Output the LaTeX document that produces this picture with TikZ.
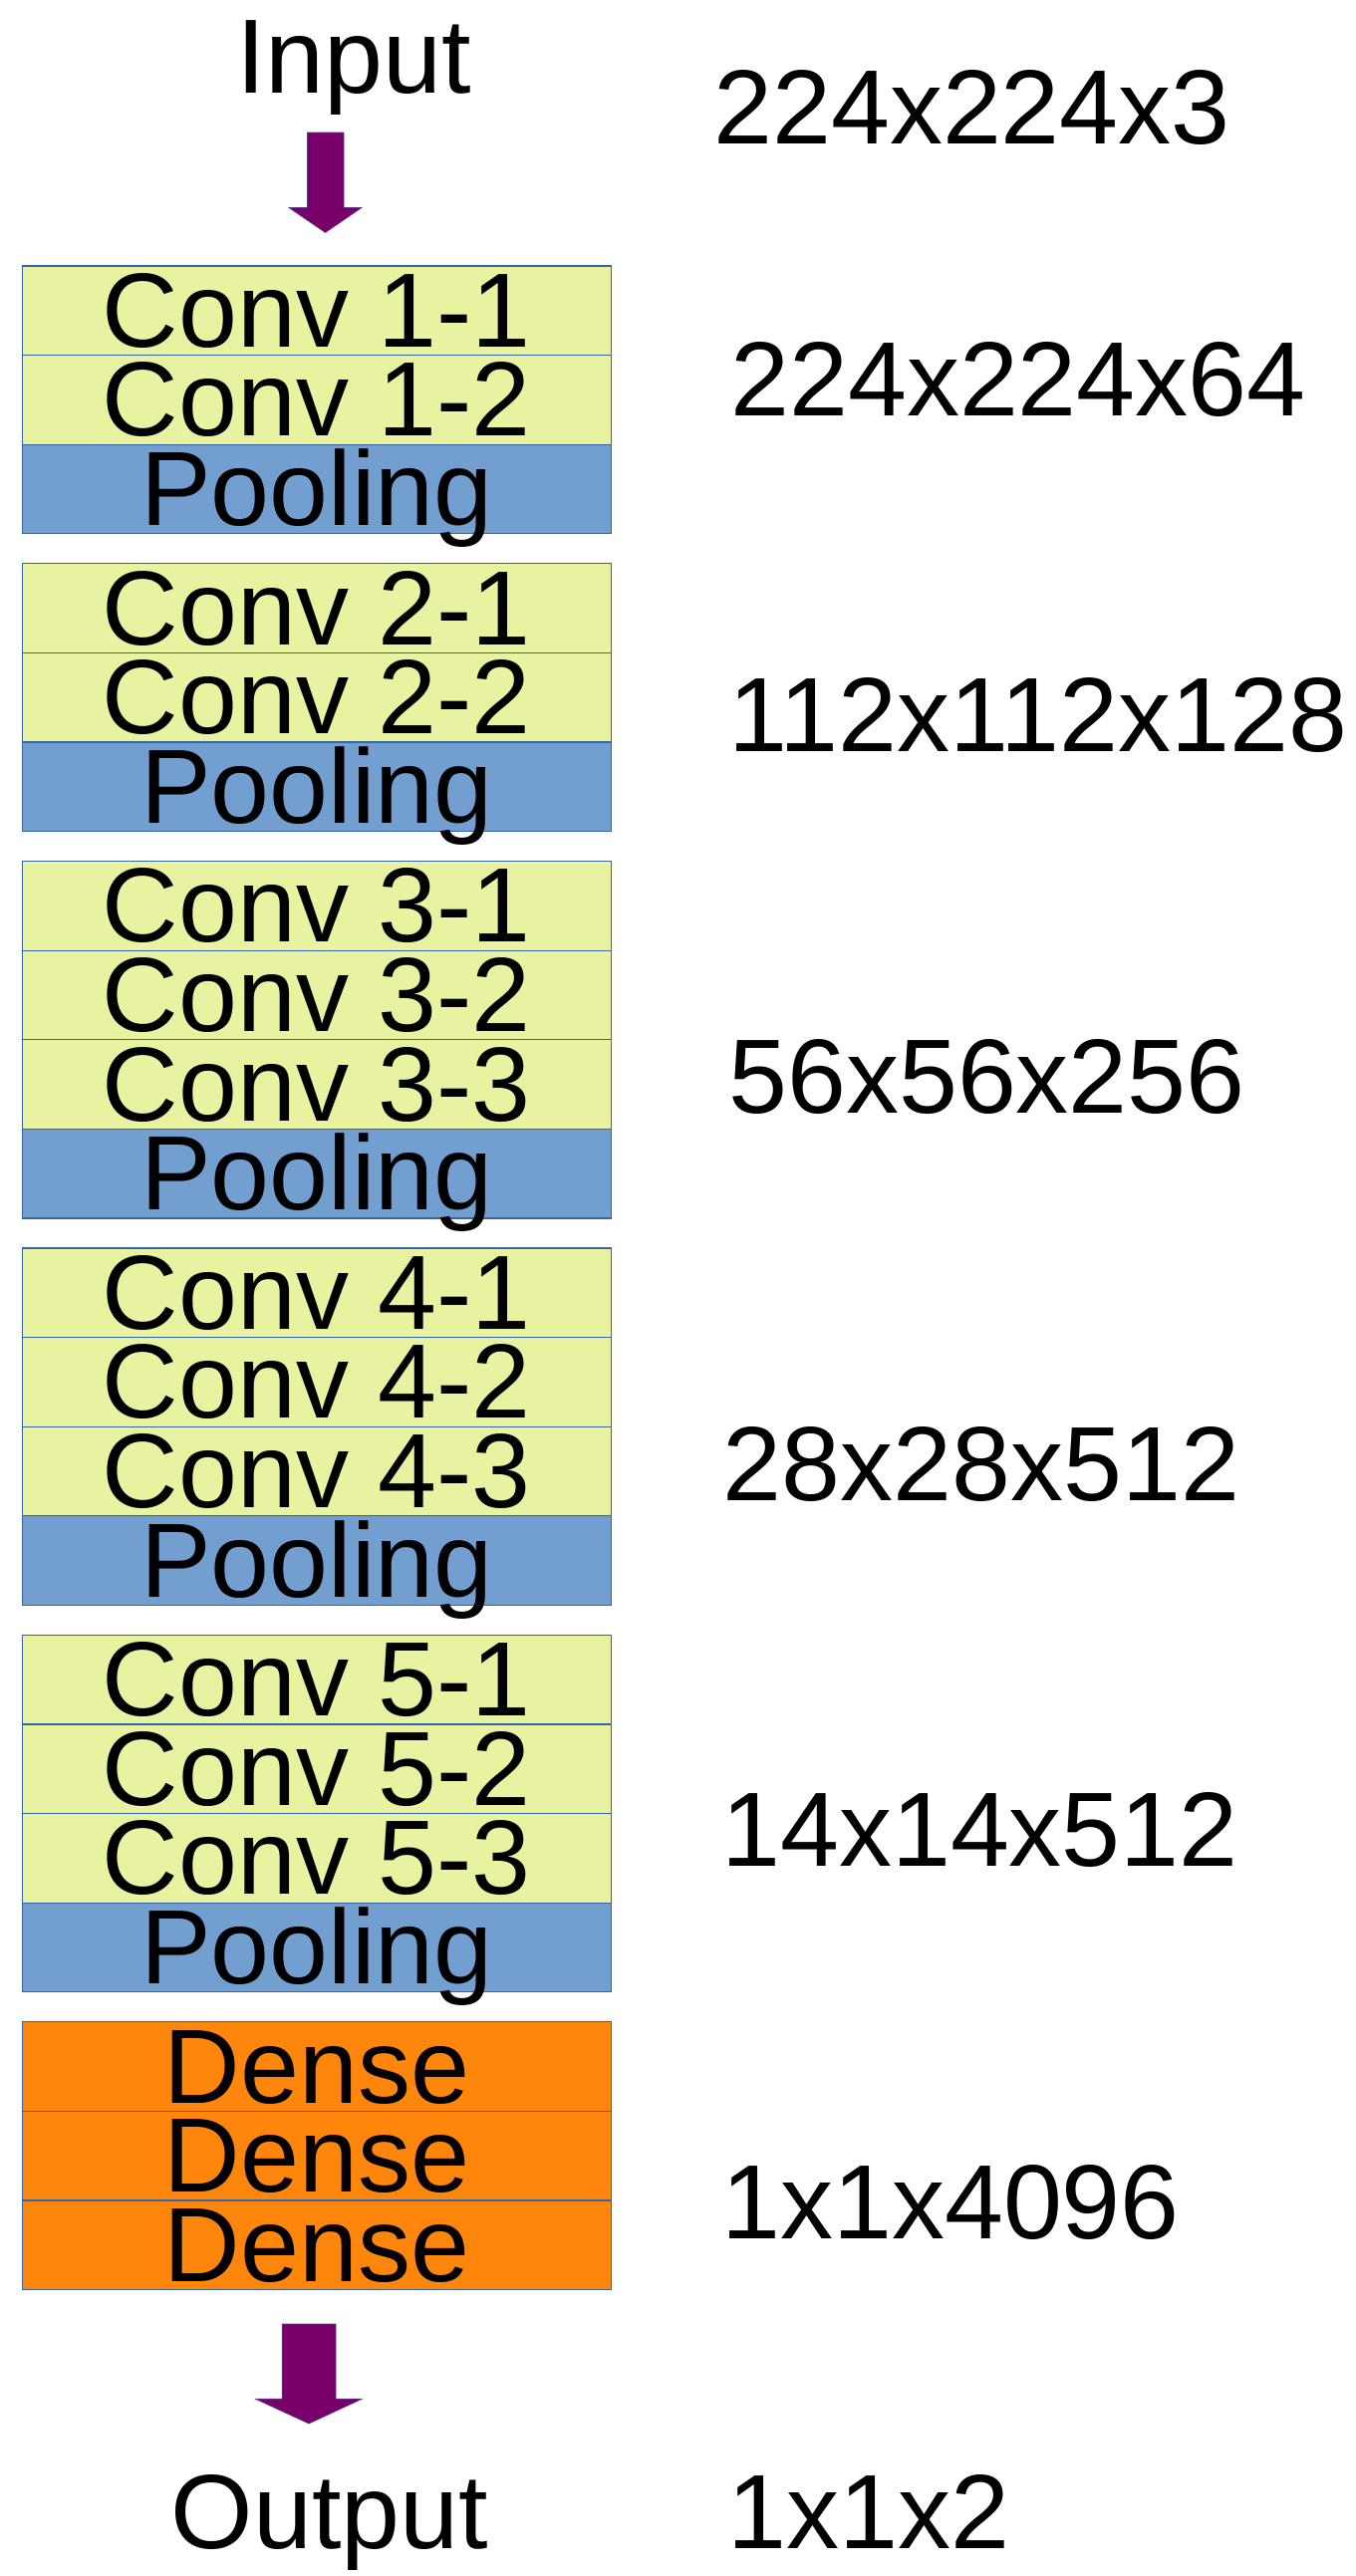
\documentclass[tikz,border=0pt]{standalone}
\usepackage{fontspec}
\setmainfont{Liberation Sans}
\usepackage{tikz}
\usetikzlibrary{positioning}

\definecolor{convcol}{HTML}{E8F2A1}
\definecolor{poolcol}{HTML}{729FCF}
\definecolor{densecol}{HTML}{FF860D}
\definecolor{linecol}{HTML}{3465A4}
\definecolor{arrowcol}{HTML}{780068}

\tikzset{
  layer/.style={draw=linecol, line width=1.2pt, minimum width=591pt, minimum height=89.6pt,
    inner sep=0pt, outer sep=0pt, text height=73pt, text depth=0pt,
    font=\fontsize{106}{110}\selectfont},
  conv/.style={layer, fill=convcol},
  pool/.style={layer, fill=poolcol},
  dense/.style={layer, fill=densecol},
  title/.style={anchor=base, inner sep=0pt, font=\fontsize{106}{110}\selectfont},
  dims/.style={anchor=base west, inner sep=0pt, font=\fontsize{106}{110}\selectfont},
  blockarrow/.style={fill=arrowcol, draw=linecol!60!arrowcol, line width=0.6pt}
}

\begin{document}
\begin{tikzpicture}[x=1pt,y=-1pt]
            \useasboundingbox (0,0) rectangle (1360,2586);
            \fill[white] (0,0) rectangle (1360,2586);

            \node[title] (input) at (355,93.5) {Input};
            \filldraw[blockarrow] (308.5,133) -- (345,133) -- (345,208.5) -- (363,208.5)
              -- (326.5,233.5) -- (290,208.5) -- (308.5,208.5) -- cycle;

            \node[conv] (c11) at (318,311.8) {Conv 1-1};
            \node[conv, below=0pt of c11] (c12) {Conv 1-2};
            \node[pool, below=0pt of c12] (p1) {Pooling};

            \node[conv, below=30pt of p1] (c21) {Conv 2-1};
            \node[conv, below=0pt of c21] (c22) {Conv 2-2};
            \node[pool, below=0pt of c22] (p2) {Pooling};

            \node[conv, below=30pt of p2] (c31) {Conv 3-1};
            \node[conv, below=0pt of c31] (c32) {Conv 3-2};
            \node[conv, below=0pt of c32] (c33) {Conv 3-3};
            \node[pool, below=0pt of c33] (p3) {Pooling};

            \node[conv, below=30pt of p3] (c41) {Conv 4-1};
            \node[conv, below=0pt of c41] (c42) {Conv 4-2};
            \node[conv, below=0pt of c42] (c43) {Conv 4-3};
            \node[pool, below=0pt of c43] (p4) {Pooling};

            \node[conv, below=30pt of p4] (c51) {Conv 5-1};
            \node[conv, below=0pt of c51] (c52) {Conv 5-2};
            \node[conv, below=0pt of c52] (c53) {Conv 5-3};
            \node[pool, below=0pt of c53] (p5) {Pooling};

            \node[dense, below=30pt of p5] (fc1) {Dense};
            \node[dense, below=0pt of fc1] (fc2) {Dense};
            \node[dense, below=0pt of fc2] (fc3) {Dense};

            \filldraw[blockarrow] (283.2,2333) -- (337,2333) -- (337,2408.2) -- (363.4,2408.2)
              -- (310,2433) -- (256.3,2408.2) -- (283.2,2408.2) -- cycle;
            \node[title] (output) at (331,2558) {Output};

            \node[dims] (dimin) at (716,144.4) {224x224x3};
            \node[dims] (dim1) at (733,417.2) {224x224x64};
            \node[dims] (dim2) at (731,754.6) {112x112x128};
            \node[dims] (dim3) at (731,1117) {56x56x256};
            \node[dims] (dim4) at (725.6,1506) {28x28x512};
            \node[dims] (dim5) at (724,1873) {14x14x512};
            \node[dims] (dimfc) at (724,2247) {1x1x4096};
            \node[dims] (dimout) at (730.5,2558) {1x1x2};
\end{tikzpicture}
\end{document}
